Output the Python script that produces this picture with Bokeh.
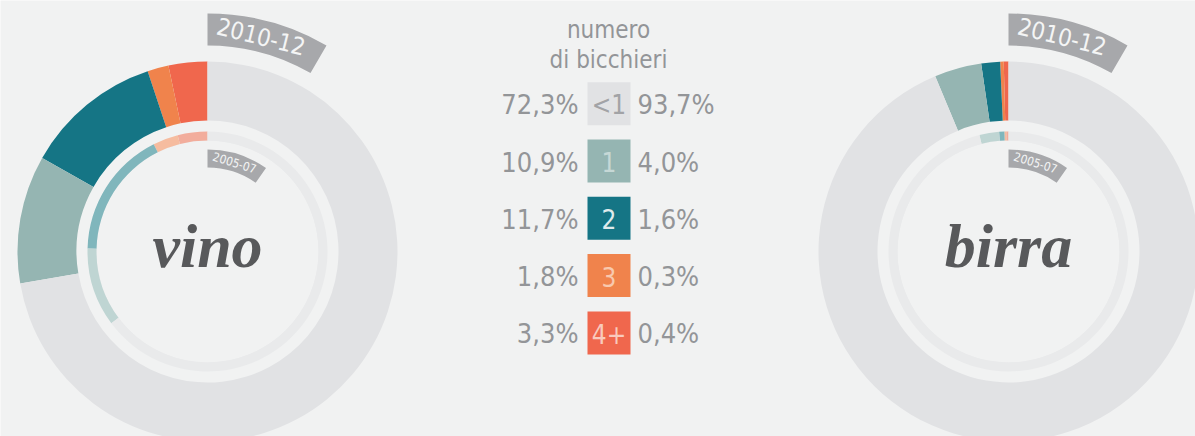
import math
from bokeh.plotting import figure
from bokeh.models import Range1d
from bokeh.embed import file_html
from bokeh.resources import INLINE
from bokeh.core.properties import value

# ---------------- data ----------------
categories = ["<1", "1", "2", "3", "4+"]
vino_2010 = [72.3, 10.9, 11.7, 1.8, 3.3]
birra_2010 = [93.7, 4.0, 1.6, 0.3, 0.4]
# 2005-07 values are estimated from the inner rings
vino_2005 = [64.8, 10.6, 17.2, 3.4, 4.0]
birra_2005 = [96.1, 2.65, 0.7, 0.25, 0.3]
drinks = ["vino", "birra"]
period_outer = "2010-12"
period_inner = "2005-07"
legend_title = ["numero", "di bicchieri"]

full_colors = ["#e1e2e4", "#95b5b2", "#157585", "#f0834c", "#f0674d"]
light_colors = ["#e9eaeb", "#bfd5d3", "#80b6bc", "#f6bc9f", "#f2ad9c"]
box_text_colors = ["#a2a3a6", "#c6d8d6", "#dfeaec", "#f8c9ae", "#f9cabd"]

BG = "#f1f2f2"
GRAY_TXT = "#939598"
BANNER = "#a7a8ab"
COND = value("DejaVu Sans Condensed")

W, H = 1195, 436
p = figure(width=W, height=H, x_range=Range1d(0, W), y_range=Range1d(0, H),
           output_backend="svg", toolbar_location=None, min_border=0)
p.axis.visible = False
p.grid.visible = False
p.outline_line_color = None
p.background_fill_color = BG
p.border_fill_color = BG


def Y(ref_y):
    return 436 - ref_y


def ring(cx, cy, vals, colors, r_in, r_out):
    # start at 12 o'clock, go counter-clockwise from the largest category index
    order = list(range(len(vals)))[::-1]
    start = math.pi / 2
    xs, ys, sa, ea, cs = [], [], [], [], []
    for i in order:
        span = vals[i] / 100.0 * 2 * math.pi
        xs.append(cx); ys.append(cy)
        sa.append(start); ea.append(start + span)
        cs.append(colors[i])
        start += span
    p.annular_wedge(x=xs, y=ys, inner_radius=r_in, outer_radius=r_out,
                    start_angle=sa, end_angle=ea, direction="anticlock",
                    fill_color=cs, line_color=None)


def banner(cx, cy, r_in, r_out, deg, label, size, text_r, text_deg):
    p.annular_wedge(x=[cx], y=[cy], inner_radius=r_in, outer_radius=r_out,
                    start_angle=math.pi / 2 - math.radians(deg), end_angle=math.pi / 2,
                    direction="anticlock", fill_color=BANNER, line_color=None)
    t = math.radians(text_deg)
    p.text(x=[cx + text_r * math.sin(t)], y=[cy + text_r * math.cos(t)], text=[label],
           angle=-t, text_align="center", text_baseline="middle",
           text_font=COND, text_font_size=f"{size}px", text_color="#f4f5f5")


centers = [(207, Y(251)), (1008, Y(251))]
outer_vals = [vino_2010, birra_2010]
inner_vals = [vino_2005, birra_2005]

for (cx, cy), name, ov, iv in zip(centers, drinks, outer_vals, inner_vals):
    ring(cx, cy, ov, full_colors, 131, 190)
    # thin track for 2005-07
    p.annular_wedge(x=[cx], y=[cy], inner_radius=111, outer_radius=119,
                    start_angle=0, end_angle=2 * math.pi, fill_color=light_colors[0], line_color=None)
    ring(cx, cy, iv, light_colors, 111, 120)
    banner(cx, cy, 206, 238, 30, period_outer, 24, 222, 14)
    banner(cx, cy, 84, 102, 35, period_inner, 12, 93, 17)
    p.text(x=[cx], y=[Y(245)], text=[name], text_align="center", text_baseline="middle",
           text_font=value("Liberation Serif"), text_font_style="bold italic",
           text_font_size="62px", text_color="#58595b")

# ---------------- legend ----------------
box_cx = 608.5
row_cy = [103.3, 160.5, 217.8, 275.1, 332.4]
p.rect(x=[box_cx] * 5, y=[Y(c) for c in row_cy], width=43, height=43,
       fill_color=full_colors, line_color=None)
p.text(x=[box_cx] * 5, y=[Y(c + 1) for c in row_cy], text=categories,
       text_align="center", text_baseline="middle", text_font=COND,
       text_font_size="26px", text_color=box_text_colors)


def fmt(v):
    return f"{v:.1f}".replace(".", ",") + "%"


p.text(x=[578] * 5, y=[Y(c + 1) for c in row_cy], text=[fmt(v) for v in vino_2010],
       text_align="right", text_baseline="middle", text_font=COND,
       text_font_size="27px", text_color=GRAY_TXT)
p.text(x=[637] * 5, y=[Y(c + 1) for c in row_cy], text=[fmt(v) for v in birra_2010],
       text_align="left", text_baseline="middle", text_font=COND,
       text_font_size="27px", text_color=GRAY_TXT)
p.text(x=[608, 608], y=[Y(29), Y(59)], text=legend_title,
       text_align="center", text_baseline="middle", text_font=COND,
       text_font_size="24px", text_color=GRAY_TXT)

open("out.html", "w").write(file_html(p, INLINE))
